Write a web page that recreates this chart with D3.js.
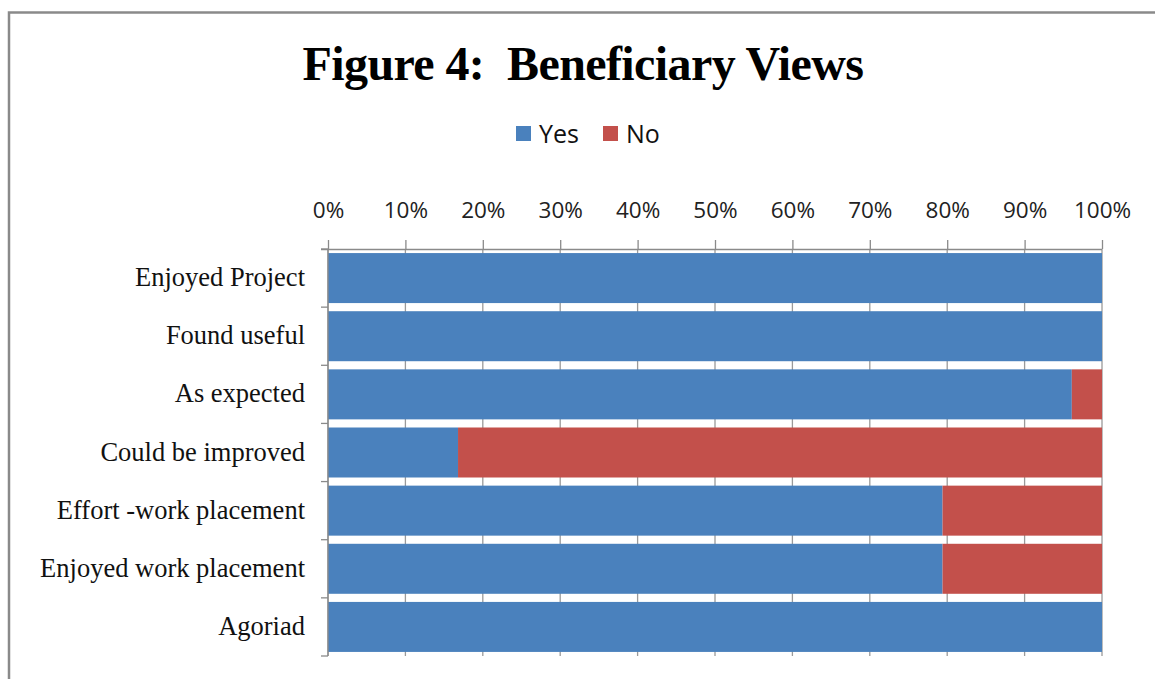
<!DOCTYPE html>
<html>
<head>
<meta charset="utf-8">
<script src="https://cdn.jsdelivr.net/npm/d3@7"></script>
<style>
  body { margin: 0; background: #fff; }
  svg { display: block; }
</style>
</head>
<body>
<script>
// data (percent of beneficiaries)
const categories = ["Enjoyed Project", "Found useful", "As expected", "Could be improved",
                    "Effort -work placement", "Enjoyed work placement", "Agoriad"];
const yesValues = [100, 100, 96.1, 16.8, 79.4, 79.4, 100];
const noValues = yesValues.map(v => 100 - v);
const seriesNames = ["Yes", "No"];
const seriesColors = ["#4a81bd", "#c3504b"];
const tickValues = [0, 10, 20, 30, 40, 50, 60, 70, 80, 90, 100];

const width = 1155, height = 679;
const margin = {left: 328, right: 53, top: 249, bottom: 23};

const svg = d3.select("body").append("svg")
  .attr("width", width)
  .attr("height", height);

// outer frame (only top + left visible in the crop)
svg.append("rect")
  .attr("x", 9).attr("y", 12.5)
  .attr("width", 1200).attr("height", 700)
  .attr("fill", "none")
  .attr("stroke", "#8a8a8a")
  .attr("stroke-width", 2.5);

const x = d3.scaleLinear()
  .domain([0, 100])
  .range([margin.left, width - margin.right]);

const y = d3.scaleBand()
  .domain(categories)
  .range([margin.top, height - margin.bottom])
  .paddingInner(0.14)
  .paddingOuter(0.07);

// title
svg.append("text")
  .attr("x", 583).attr("y", 80)
  .attr("text-anchor", "middle")
  .style("font-family", "'Liberation Serif', 'Times New Roman', serif")
  .style("font-weight", "bold")
  .style("font-size", "48px")
  .style("white-space", "pre")
  .style("letter-spacing", "-0.6px")
  .text("Figure 4:  Beneficiary Views");

// legend
const legend = svg.append("g");
const legX = [516, 603];
seriesNames.forEach((name, i) => {
  legend.append("rect")
    .attr("x", legX[i]).attr("y", 126)
    .attr("width", 15).attr("height", 15)
    .attr("fill", seriesColors[i]);
  legend.append("text")
    .attr("x", legX[i] + 23).attr("y", 143)
    .style("font-family", "'Open Sans', sans-serif")
    .style("font-size", "25px")
    .attr("fill", "#111")
    .text(name);
});

// vertical gridlines
svg.append("g")
  .selectAll("line")
  .data(tickValues)
  .join("line")
  .attr("x1", d => x(d)).attr("x2", d => x(d))
  .attr("y1", margin.top).attr("y2", height - margin.bottom)
  .attr("stroke", "#9a9a9a")
  .attr("stroke-width", 1.3);

// stacked bars
const stackData = categories.map((c, i) => ({cat: c, Yes: yesValues[i], No: noValues[i]}));
const stacked = d3.stack().keys(seriesNames)(stackData);

svg.append("g")
  .selectAll("g")
  .data(stacked)
  .join("g")
  .attr("fill", (d, i) => seriesColors[i])
  .selectAll("rect")
  .data(d => d)
  .join("rect")
  .attr("x", d => x(d[0]))
  .attr("width", d => x(d[1]) - x(d[0]))
  .attr("y", d => y(d.data.cat))
  .attr("height", y.bandwidth());

// top axis
const xAxis = svg.append("g")
  .attr("transform", `translate(0,${margin.top})`)
  .call(d3.axisTop(x).tickValues(tickValues).tickFormat(d => d + "%").tickSize(9).tickSizeOuter(0));
xAxis.select(".domain").attr("stroke", "#8a8a8a").attr("stroke-width", 1.3)
  .attr("d", `M${margin.left - 7},0.5H${x(100)}`);
xAxis.selectAll(".tick line").attr("stroke", "#8a8a8a").attr("stroke-width", 1.3);
xAxis.selectAll(".tick text")
  .attr("y", -31)
  .style("font-family", "'Open Sans', sans-serif")
  .style("font-size", "22.5px")
  .attr("fill", "#222");

// left axis: line + ticks at category boundaries
const yAxisG = svg.append("g");
yAxisG.append("line")
  .attr("x1", margin.left).attr("x2", margin.left)
  .attr("y1", margin.top).attr("y2", height - margin.bottom)
  .attr("stroke", "#8a8a8a").attr("stroke-width", 1.3);
const step = (height - margin.bottom - margin.top) / categories.length;
yAxisG.selectAll(".bt")
  .data(d3.range(categories.length + 1))
  .join("line")
  .attr("x1", margin.left - 7).attr("x2", margin.left)
  .attr("y1", i => margin.top + i * step).attr("y2", i => margin.top + i * step)
  .attr("stroke", "#8a8a8a").attr("stroke-width", 1.3);

yAxisG.selectAll("text")
  .data(categories)
  .join("text")
  .attr("x", 305)
  .attr("y", d => y(d) + y.bandwidth() / 2 + 8)
  .attr("text-anchor", "end")
  .style("font-family", "'Liberation Serif', 'Times New Roman', serif")
  .style("font-size", "26.5px")
  .attr("fill", "#111")
  .text(d => d);
</script>
</body>
</html>
